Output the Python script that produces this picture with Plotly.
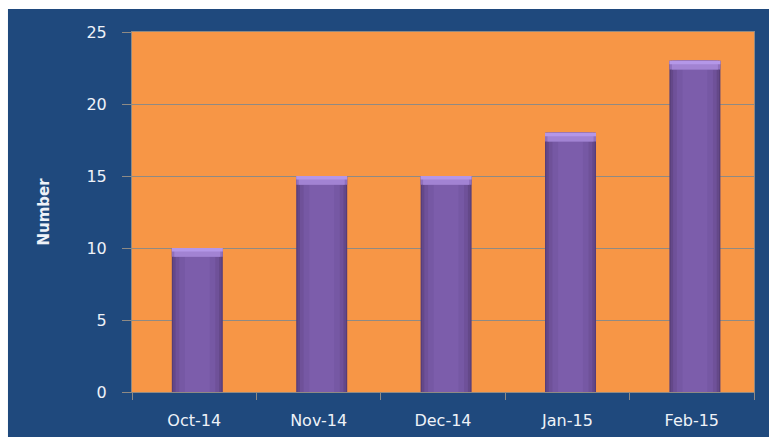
import plotly.graph_objects as go

months = ["Oct-14", "Nov-14", "Dec-14", "Jan-15", "Feb-15"]
counts = [10, 15, 15, 18, 23]
y_ticks = [0, 5, 10, 15, 20, 25]

BLUE = "#1f497d"
ORANGE = "#f79646"
GRID = "#8f8a84"
TEXT = "#eef2f8"
FONT = "DejaVu Sans"

fig = go.Figure()

SHIFT = 0.025  # bars sit slightly right of the category centre

def add_layer(w, color, y=None, base=None):
    fig.add_trace(go.Bar(
        x=months, y=y if y is not None else counts, base=base,
        width=w, offset=-w / 2 + SHIFT,
        marker=dict(color=color, opacity=1, line=dict(width=0)),
        hoverinfo="skip", showlegend=False,
    ))

# Cylinder-like bar: stacked overlays from dark edges to a lighter core
for w, c in [
    (0.41, "#573d78"),
    (0.39, "#644889"),
    (0.35, "#6f5199"),
    (0.29, "#7658a4"),
    (0.20, "#7c5dab"),
]:
    add_layer(w, c)

# Light bevel cap at the top of each bar
cap = 0.6
add_layer(0.41, "#8f70be", y=[cap] * len(counts), base=[v - cap for v in counts])
add_layer(0.37, "#a283d3", y=[cap] * len(counts), base=[v - cap for v in counts])
add_layer(0.41, "#b497e8", y=[cap * 0.4] * len(counts), base=[v - cap * 0.4 for v in counts])

# Thin white strip along the top and left edges of the page
fig.add_shape(type="rect", xref="paper", yref="paper",
              x0=-0.3, x1=1.1, y0=1.0639, y1=1.2,
              fillcolor="white", line=dict(width=0), layer="below")
fig.add_shape(type="rect", xref="paper", yref="paper",
              x0=-0.3, x1=-0.1994, y0=-0.2, y1=1.2,
              fillcolor="white", line=dict(width=0), layer="below")

fig.update_layout(
    width=769, height=437,
    margin=dict(l=132, r=15, t=32, b=45),
    paper_bgcolor=BLUE,
    plot_bgcolor=ORANGE,
    barmode="overlay",
    font=dict(family=FONT, color=TEXT, size=15),
    showlegend=False,
)

fig.update_xaxes(
    type="category",
    showgrid=False,
    showline=True, linecolor=GRID, linewidth=1, mirror=True,
    ticks="outside", ticklen=7, tickcolor=GRID, tickwidth=1,
    tickson="boundaries",
    tickfont=dict(family=FONT, size=16, color=TEXT),
    ticklabelstandoff=14,
    automargin=False,
    fixedrange=True,
)
fig.update_yaxes(
    range=[0, 25],
    tickvals=y_ticks,
    showgrid=True, gridcolor=GRID, gridwidth=1,
    showline=True, linecolor=GRID, linewidth=1, mirror=True,
    ticks="outside", ticklen=9, tickcolor=GRID, tickwidth=1,
    tickfont=dict(family=FONT, size=16, color=TEXT),
    ticklabelstandoff=12,
    title=dict(text="<b>Number</b>", font=dict(family=FONT, size=15, color=TEXT), standoff=33),
    automargin=False,
    zeroline=False,
    fixedrange=True,
)

fig.write_html("out.html")
